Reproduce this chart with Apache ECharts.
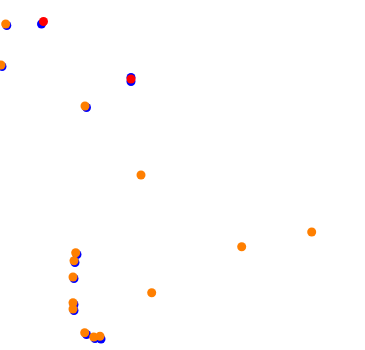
<!DOCTYPE html>
<html>
<head>
<meta charset="utf-8">
<script src="https://cdn.jsdelivr.net/npm/echarts@6/dist/echarts.min.js"></script>
<style>html,body{margin:0;padding:0;background:#fff;}#chart{width:365px;height:350px;}</style>
</head>
<body>
<div id="chart"></div>
<script>
// Values (x, y in plot units; y grows upward)
const blueX = [6.8, 2, 86.5, 77, 75, 74, 74, 74, 86.5, 95, 101, 41.5, 131, 131];
const blueY = [324.5, 283.5, 242.5, 95.5, 87.5, 71.5, 45.5, 39.5, 15.5, 11.5, 11, 326, 272.5, 268.5];
const redX = [43.5, 131];
const redY = [328.5, 271];
const orangeX = [5.7, 1, 85, 141, 311.7, 241.7, 75.7, 74, 73, 151.7, 73, 73, 84.7, 93.7, 100];
const orangeY = [326, 285, 244, 175, 118, 103.3, 97.3, 89.3, 73, 57.3, 47.3, 41, 17.3, 13, 13.7];

function pairs(xs, ys) { return xs.map((x, i) => [x, ys[i]]); }

const chart = echarts.init(document.getElementById('chart'));
chart.setOption({
  animation: false,
  backgroundColor: '#ffffff',
  grid: { left: 0, right: 0, top: 0, bottom: 0 },
  xAxis: { type: 'value', min: 0, max: 365, show: false },
  yAxis: { type: 'value', min: 0, max: 350, show: false },
  series: [
    { type: 'scatter', data: pairs(blueX, blueY), symbolSize: 9, itemStyle: { color: '#0000ff', opacity: 1 } },
    { type: 'scatter', data: pairs(redX, redY), symbolSize: 9, itemStyle: { color: '#ff0000', opacity: 1 } },
    { type: 'scatter', data: pairs(orangeX, orangeY), symbolSize: 9, itemStyle: { color: '#ff7f00', opacity: 1 } }
  ]
});
</script>
</body>
</html>
